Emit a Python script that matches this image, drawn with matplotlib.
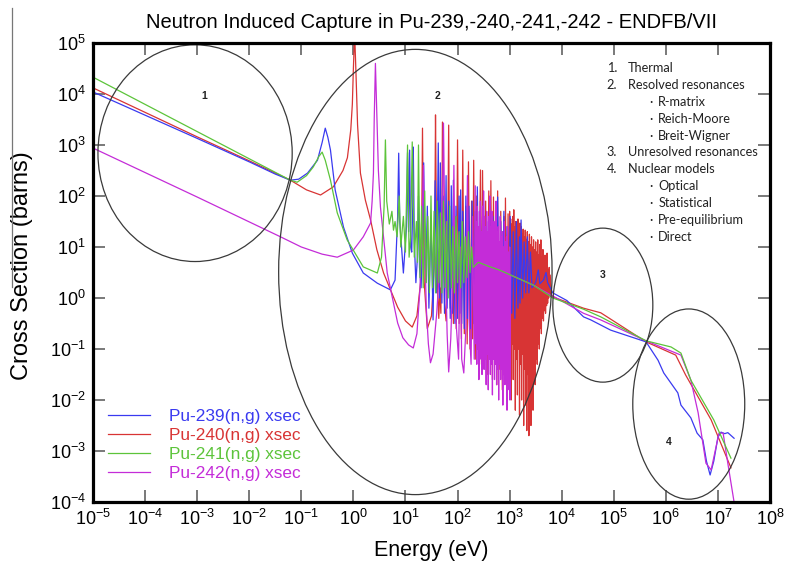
import numpy as np
import matplotlib
matplotlib.use('Agg')
from matplotlib import pyplot as plt
from matplotlib.patches import Ellipse
from matplotlib.lines import Line2D
from matplotlib.ticker import LogLocator, NullLocator

plt.rcParams['font.family'] = ['Liberation Sans', 'DejaVu Sans']
plt.rcParams['mathtext.fontset'] = 'custom'
plt.rcParams['mathtext.rm'] = 'Liberation Sans'
plt.rcParams['mathtext.it'] = 'Liberation Sans:italic'
plt.rcParams['mathtext.bf'] = 'Liberation Sans:bold'
plt.rcParams['axes.unicode_minus'] = False

# all points are (log10 energy [eV], log10 cross section [barns])
pu239_thermal = [(-5.0, 4.04), (-3.0, 3.13), (-2.0, 2.67), (-1.5, 2.43), (-1.21, 2.31), (-1.05, 2.33),
                 (-0.88, 2.45), (-0.69, 2.70), (-0.60, 3.05), (-0.54, 3.33), (-0.49, 3.15), (-0.44, 2.90),
                 (-0.35, 2.12), (-0.19, 1.39), (-0.02, 0.88), (0.19, 0.49), (0.46, 0.29), (0.71, 0.16)]
pu239_resolved = [(0.80, 0.35), (0.85, 1.6), (0.87, 2.84), (0.89, 1.5), (0.96, 0.49), (1.02, 1.4), (1.04, 2.85),
                  (1.06, 1.3), (1.08, 2.90), (1.10, 1.0), (1.12, 0.9), (1.14, 1.8), (1.15, 2.96), (1.17, 1.1),
                  (1.20, 0.3), (1.23, 0.8), (1.25, 2.0), (1.27, 0.6), (1.30, 0.2), (1.33, 1.2), (1.35, 2.65),
                  (1.37, 0.9), (1.39, 0.4), (1.42, 1.8), (1.45, -0.2), (1.49, 1.5), (1.53, -0.43), (1.57, 2.3),
                  (1.60, 0.1), (1.63, 3.04), (1.655, 0.0), (1.67, 2.65), (1.70, -0.1), (1.72, 2.0), (1.75, -0.3),
                  (1.78, 2.4), (1.80, -0.2), (1.83, 1.9), (1.86, -0.4), (1.88, 2.2), (1.905, -0.3), (1.92, 2.31),
                  (1.95, -0.5), (1.97, 1.8), (2.00, -0.4), (2.03, 2.0), (2.045, -0.3), (2.06, 2.12), (2.08, -0.5),
                  (2.10, 1.7), (2.13, -0.6), (2.16, 2.0), (2.19, -0.4), (2.22, 1.8), (2.25, -0.6), (2.28, 1.9),
                  (2.31, -0.5), (2.34, 1.7), (2.36, -0.6), (2.38, 2.18), (2.41, -0.5), (2.44, 1.6), (2.47, -0.7),
                  (2.50, 1.9), (2.53, -0.6), (2.56, 1.5), (2.59, -0.7), (2.62, 1.8), (2.65, -0.6), (2.68, 1.6),
                  (2.71, -0.7), (2.74, 1.7), (2.755, -0.5), (2.77, 1.98), (2.80, -0.6), (2.83, 1.5), (2.86, -0.5),
                  (2.89, 1.7), (2.92, -0.4), (2.95, 1.4), (2.98, -0.5), (3.01, 1.6), (3.04, -0.3), (3.07, 1.3),
                  (3.10, -0.4), (3.13, 1.5), (3.16, -0.2), (3.19, 1.2), (3.20, -0.1), (3.22, 1.53), (3.25, 0.0),
                  (3.28, 1.1), (3.31, 0.1), (3.34, 1.2), (3.37, 0.1), (3.40, 0.9), (3.43, 0.2)]
pu239_fast = [(3.50, 0.30), (3.55, 0.55), (3.58, 0.28), (3.65, 0.35), (3.70, 0.50), (3.73, 0.30), (3.78, 0.20),
              (3.83, 0.10), (4.10, -0.05), (4.42, -0.37), (4.56, -0.43), (4.94, -0.63), (5.62, -0.86),
              (5.85, -1.22), (5.96, -1.47), (6.23, -1.86), (6.29, -2.10), (6.48, -2.35), (6.60, -2.65),
              (6.71, -2.78), (6.78, -3.20), (6.85, -3.47), (6.92, -3.20), (7.00, -2.73), (7.06, -2.63),
              (7.13, -2.66), (7.19, -2.64), (7.31, -2.75)]

pu240_thermal = [(-5.0, 4.12), (-3.0, 3.16), (-2.0, 2.69), (-1.5, 2.45), (-1.21, 2.31), (-0.9, 2.12),
                 (-0.63, 2.02), (-0.385, 2.18), (-0.2, 2.50), (-0.115, 2.75), (-0.05, 3.30), (-0.02, 3.80),
                 (0.0, 4.50), (0.024, 5.20), (0.05, 4.40), (0.08, 3.40), (0.135, 2.45), (0.23, 1.92),
                 (0.33, 1.53), (0.45, 0.95), (0.58, 0.49), (0.85, -0.18), (1.00, -0.45), (1.13, -0.57)]
pu240_resolved = [(1.22, -0.35), (1.29, 0.3), (1.315, 1.8), (1.327, 3.33), (1.34, 1.8), (1.36, 0.3),
                  (1.42, -0.60), (1.50, -0.35), (1.55, 0.6), (1.567, 2.0), (1.577, 3.59), (1.59, 2.0),
                  (1.61, 0.3), (1.64, -0.4), (1.66, 0.2), (1.68, -0.3), (1.70, 1.5), (1.71, 3.45), (1.725, 1.4),
                  (1.75, -0.1), (1.78, -0.45), (1.81, 0.8), (1.83, 3.39), (1.845, 0.8), (1.86, -0.2), (1.89, 1.2),
                  (1.92, -0.5), (1.95, 1.6), (1.975, -0.6), (2.00, 3.10), (2.03, -0.5), (2.05, 1.4), (2.075, -0.8),
                  (2.10, 2.90), (2.13, -0.7), (2.16, 1.8), (2.185, -0.9), (2.21, 2.67), (2.24, -1.0), (2.27, 1.9),
                  (2.29, -0.8), (2.31, 2.70), (2.34, -1.2), (2.37, 2.0), (2.40, -1.0), (2.44, 2.51), (2.46, -1.3),
                  (2.48, 2.50), (2.51, -1.1), (2.54, 1.9), (2.57, -1.5), (2.60, 2.1), (2.62, -1.2), (2.64, 2.30),
                  (2.67, -1.6), (2.69, 1.98), (2.72, -1.3), (2.74, 1.8), (2.755, -1.7), (2.77, 2.10), (2.80, -1.4),
                  (2.83, 1.7), (2.86, -1.8), (2.89, 1.6), (2.905, -1.5), (2.92, 1.96), (2.95, -1.9), (2.97, 1.65),
                  (2.985, -1.3)]
pu240_dense = [(3.00, 1.70), (3.01, -1.1), (3.02, 1.55), (3.03, -2.0), (3.04, 1.45), (3.05, -0.9), (3.06, 1.60),
               (3.07, -1.6), (3.08, 1.73), (3.09, -1.0), (3.10, 1.40), (3.11, -2.2), (3.12, 1.50), (3.13, -1.2),
               (3.14, 1.35), (3.15, -1.9), (3.16, 1.55), (3.17, -1.0), (3.18, 1.30), (3.19, -2.3), (3.20, 1.47),
               (3.21, -1.3), (3.22, 1.40), (3.23, -2.0), (3.24, 1.25), (3.25, -1.1), (3.26, 1.35), (3.27, -2.5),
               (3.28, 1.20), (3.29, -1.4), (3.30, 1.33), (3.31, -2.1), (3.32, 1.15), (3.33, -2.6), (3.34, 1.30),
               (3.35, -1.5), (3.36, 1.10), (3.37, -2.7), (3.38, 1.25), (3.39, -1.8), (3.40, 1.05), (3.41, -2.5),
               (3.42, 1.20), (3.43, -1.6), (3.44, 1.00), (3.45, -2.2), (3.46, 1.14), (3.47, -1.4), (3.48, 0.95),
               (3.49, -1.7), (3.50, 1.10), (3.51, -1.2), (3.52, 0.90), (3.53, -1.3), (3.54, 1.14), (3.55, -0.9),
               (3.56, 0.85), (3.57, -1.0), (3.58, 1.05), (3.59, -0.6), (3.60, 1.14), (3.61, -0.7), (3.62, 0.80),
               (3.63, -0.4), (3.64, 0.95), (3.65, -0.45), (3.66, 0.70), (3.67, -0.25), (3.68, 0.84), (3.69, -0.3),
               (3.70, 0.65), (3.71, -0.15), (3.72, 0.88), (3.73, -0.1), (3.74, 0.55), (3.75, 0.0), (3.76, 0.60),
               (3.77, 0.05), (3.78, 0.45)]
pu240_fast = [(3.80, 0.05), (3.83, 0.02), (4.42, -0.20), (4.75, -0.29), (5.62, -0.86), (6.19, -1.12),
              (6.38, -1.51), (6.87, -2.39), (7.25, -3.33)]

pu241_thermal = [(-5.0, 4.33), (-2.0, 2.73), (-1.21, 2.31), (-1.08, 2.27), (-0.90, 2.40), (-0.77, 2.57),
                 (-0.66, 2.78), (-0.60, 2.86), (-0.54, 2.70), (-0.44, 2.31), (-0.31, 1.67), (-0.12, 1.14),
                 (0.19, 0.61), (0.46, 0.49)]
pu241_resolved = [(0.54, 0.8), (0.59, 1.8), (0.615, 3.10), (0.64, 1.9), (0.69, 1.45), (0.74, 1.70), (0.77, 1.33),
                  (0.80, 1.50), (0.84, 1.20), (0.88, 2.00), (0.91, 1.00), (0.96, 1.60), (1.00, 0.90), (1.04, 3.00),
                  (1.07, 0.80), (1.10, 1.2), (1.13, 3.06), (1.17, 0.80), (1.21, 1.50), (1.23, 0.70), (1.25, 3.00),
                  (1.28, 0.40), (1.31, 1.80), (1.34, 0.20), (1.37, 2.10), (1.40, 0.30), (1.43, 1.60), (1.46, 0.10),
                  (1.49, 2.00), (1.52, 0.20), (1.55, 1.70), (1.58, 0.10), (1.61, 1.90), (1.64, 0.30), (1.67, 1.67),
                  (1.70, 0.10), (1.73, 1.90), (1.76, 0.20), (1.79, 1.50), (1.82, 0.00), (1.85, 1.80), (1.88, 0.20),
                  (1.91, 1.40), (1.94, 0.10), (1.97, 1.60), (2.00, 0.30), (2.03, 1.30), (2.06, 0.20), (2.09, 1.50),
                  (2.12, 0.30), (2.15, 1.20), (2.18, 0.40), (2.21, 1.30), (2.24, 0.50), (2.27, 1.00), (2.30, 0.60)]
pu241_fast = [(2.40, 0.70), (2.60, 0.62), (2.80, 0.55), (3.02, 0.45), (3.46, 0.25), (3.83, 0.00), (4.42, -0.22),
              (4.75, -0.37), (5.62, -0.84), (6.10, -0.96), (6.29, -1.08), (6.48, -1.61), (6.92, -2.39),
              (7.25, -3.14)]

pu242_thermal = [(-5.0, 2.94), (-3.0, 1.98), (-1.40, 1.20), (-1.0, 1.00), (-0.6, 0.86), (-0.31, 0.80),
                 (0.0, 0.94), (0.19, 1.20), (0.33, 1.47), (0.36, 1.90), (0.385, 2.45), (0.40, 3.50),
                 (0.423, 4.60), (0.445, 3.80), (0.48, 2.50), (0.52, 1.78), (0.65, 0.49), (0.85, -0.49),
                 (0.95, -0.78), (1.06, -0.92)]
pu242_resolved = [(1.15, -0.98), (1.22, -0.70), (1.28, 0.20), (1.32, 1.5), (1.345, 2.60), (1.37, 1.0),
                  (1.40, -0.2), (1.44, -0.9), (1.48, -1.27), (1.53, -1.10), (1.60, -0.30), (1.68, 1.00),
                  (1.715, 2.2), (1.73, 3.43), (1.75, 1.8), (1.78, 0.20), (1.80, -0.70), (1.83, -1.45),
                  (1.87, -0.80), (1.91, 0.5), (1.93, 2.60), (1.95, 0.5), (1.98, -0.6), (2.02, -1.20), (2.05, 1.00),
                  (2.08, -1.20), (2.12, -1.47), (2.16, -0.60), (2.19, 2.40), (2.22, -0.40), (2.26, -1.30),
                  (2.29, 1.60), (2.32, -1.20)]
pu242_dense = [(2.34, 2.20), (2.35, -0.9), (2.36, 1.5), (2.37, -1.3), (2.38, 1.8), (2.39, -1.0), (2.40, 1.4),
               (2.41, -1.6), (2.42, 1.7), (2.43, -1.1), (2.44, 1.90), (2.45, -1.2), (2.46, 1.3), (2.47, -1.5),
               (2.48, 1.8), (2.49, -1.0), (2.50, 2.10), (2.51, -1.4), (2.52, 1.6), (2.53, -1.2), (2.54, 1.4),
               (2.55, -1.7), (2.56, 1.7), (2.57, -1.1), (2.58, 1.3), (2.59, -1.80), (2.60, 1.6), (2.61, -1.2),
               (2.62, 2.00), (2.63, -1.5), (2.64, 1.4), (2.65, -1.3), (2.66, 1.7), (2.67, -1.9), (2.68, 1.3),
               (2.69, -1.2), (2.70, 1.5), (2.71, -1.6), (2.72, 1.2), (2.73, -1.3), (2.74, 1.9), (2.75, -1.7),
               (2.76, 1.3), (2.77, -1.4), (2.78, 1.4), (2.79, -2.0), (2.80, 1.1), (2.81, -1.3), (2.82, 1.6),
               (2.83, -1.6), (2.84, 1.2), (2.85, -1.4), (2.86, 1.3), (2.87, -2.1), (2.88, 1.0), (2.89, -1.5),
               (2.90, 1.5), (2.91, -1.7), (2.92, 1.1), (2.93, -1.3), (2.94, 1.2), (2.95, -2.2), (2.96, 1.4),
               (2.97, -1.5), (2.98, 0.9), (2.99, -1.8), (3.00, 1.0), (3.005, -2.0)]
pu242_fast = [(3.02, 0.45), (3.46, 0.25), (3.83, 0.04), (4.42, -0.30), (4.75, -0.43), (5.62, -0.84),
              (6.29, -1.12), (6.48, -1.61), (6.62, -2.25), (6.77, -3.24), (6.87, -3.37), (7.02, -2.65),
              (7.10, -2.65), (7.19, -3.24), (7.31, -4.00), (7.33, -4.30)]

series = [
    ('Pu-239(n,g) xsec', '#3a3af0', 3, pu239_thermal + pu239_resolved + pu239_fast),
    ('Pu-240(n,g) xsec', '#d83434', 2, pu240_thermal + pu240_resolved + pu240_dense + pu240_fast),
    ('Pu-241(n,g) xsec', '#5cc43a', 5, pu241_thermal + pu241_resolved + pu241_fast),
    ('Pu-242(n,g) xsec', '#c42cd8', 4, pu242_thermal + pu242_resolved + pu242_dense + pu242_fast),
]

# regions: (label, centre log10 E, centre log10 xs, width in decades E, height in decades xs, label position)
regions = [
    ('1', -3.04, 2.84, 3.73, 4.25, (-2.87, 3.96)),
    ('2', 1.19, 0.51, 5.25, 8.73, (1.62, 3.96)),
    ('3', 4.79, -0.14, 1.92, 3.02, (4.79, 0.45)),
    ('4', 6.44, -2.08, 2.15, 3.73, (6.06, -2.82)),
]

notes = [('1.', 'Thermal', 0), ('2.', 'Resolved resonances', 0), ('\u00b7', 'R-matrix', 1),
         ('\u00b7', 'Reich-Moore', 1), ('\u00b7', 'Breit-Wigner', 1), ('3.', 'Unresolved resonances', 0),
         ('4.', 'Nuclear models', 0), ('\u00b7', 'Optical', 1), ('\u00b7', 'Statistical', 1),
         ('\u00b7', 'Pre-equilibrium', 1), ('\u00b7', 'Direct', 1)]

fig = plt.figure(figsize=(7.87, 5.66), dpi=100)
ax = fig.add_axes([93 / 787, 1 - 502 / 566, 677 / 787, 459 / 566])
ax.set_xscale('log')
ax.set_yscale('log')
ax.set_xlim(1e-5, 1e8)
ax.set_ylim(1e-4, 1e5)

for label, color, z, pts in series:
    pts = np.array(pts)
    ax.plot(10 ** pts[:, 0], 10 ** pts[:, 1], color=color, lw=0.9, label=label, zorder=z)

for lab, lx, ly, wd, hd, (tx, ty) in regions:
    cx, cy = ax.transAxes.inverted().transform(ax.transData.transform((10 ** lx, 10 ** ly)))
    ax.add_patch(Ellipse((cx, cy), wd / 13.0, hd / 9.0, transform=ax.transAxes,
                         fill=False, ec='#3a3a3a', lw=0.9, zorder=6))
    ax.text(10 ** tx, 10 ** ty, lab, fontsize=7.5, fontweight='bold', ha='center', va='center',
            color='#222222', zorder=7)

y0 = (502 - 68) / 459
dy = 16.9 / 459
for i, (mark, text, level) in enumerate(notes):
    y = y0 - i * dy
    mx, tx = (0.759, 0.790) if level == 0 else (0.822, 0.835)
    ax.text(mx, y, mark, transform=ax.transAxes, fontsize=9.2, family='Lato', va='center', color='#222222')
    ax.text(tx, y, text, transform=ax.transAxes, fontsize=9.2, family='Lato', va='center', color='#222222')

leg = ax.legend(loc='lower left', bbox_to_anchor=(0.022, 0.045), frameon=False, fontsize=12.4,
                labelcolor='linecolor', handlelength=2.45, handletextpad=1.1, labelspacing=0.24,
                borderpad=0, borderaxespad=0)

ax.xaxis.set_major_locator(LogLocator(base=10, numticks=20))
ax.yaxis.set_major_locator(LogLocator(base=10, numticks=20))
ax.xaxis.set_minor_locator(NullLocator())
ax.yaxis.set_minor_locator(NullLocator())
ax.tick_params(which='major', direction='in', length=8.5, width=1.1, color='#555555',
               top=True, right=True, labelsize=13, pad=5)
for sp in ax.spines.values():
    sp.set_linewidth(2.3)
    sp.set_zorder(10)

ax.set_title('Neutron Induced Capture in Pu-239,-240,-241,-242 - ENDFB/VII', fontsize=14.5, pad=11)
ax.set_xlabel('Energy (eV)', fontsize=15.5, labelpad=8)
ax.set_ylabel('Cross Section (barns)', fontsize=17)
ax.yaxis.set_label_coords(-0.089, 0.516)

fig.add_artist(Line2D([12 / 787, 12 / 787], [1 - 8 / 566, 1 - 287 / 566], color='#777777', lw=0.9))

fig.savefig('out.png', dpi=100)
